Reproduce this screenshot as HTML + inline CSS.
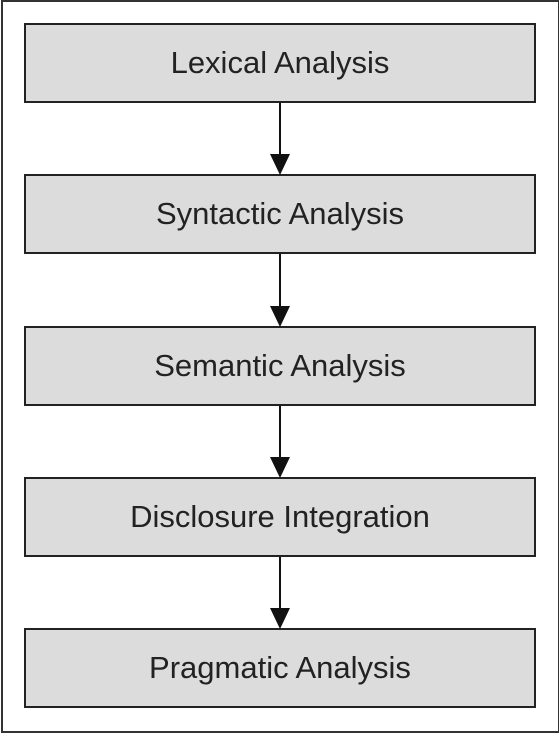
<!DOCTYPE html>
<html><head><style>
body{margin:0;width:559px;height:733px;background:#fff;position:relative;overflow:hidden;font-family:"Liberation Sans",sans-serif}
.outer{position:absolute;left:1px;top:0;width:555px;height:729px;border:2px solid #333}
.b{position:absolute;left:24px;width:508px;height:76px;border:2px solid #222;background:#dcdcdc;text-align:center;line-height:76px;font-size:31px;color:#222}
.l{position:absolute;left:279px;width:2px;background:#111}
.h{position:absolute;left:270px;width:0;height:0;border-left:10.5px solid transparent;border-right:10.5px solid transparent;border-top:21px solid #111}
</style></head><body>
<div class="outer"></div>
<div class="b" style="top:23px">Lexical Analysis</div>
<div class="b" style="top:174px">Syntactic Analysis</div>
<div class="b" style="top:326px">Semantic Analysis</div>
<div class="b" style="top:477px">Disclosure Integration</div>
<div class="b" style="top:628px">Pragmatic Analysis</div>
<div class="l" style="top:103px;height:55px"></div><div class="h" style="top:154px"></div>
<div class="l" style="top:254px;height:56px"></div><div class="h" style="top:306px"></div>
<div class="l" style="top:406px;height:55px"></div><div class="h" style="top:457px"></div>
<div class="l" style="top:557px;height:55px"></div><div class="h" style="top:608px"></div>
</body></html>
